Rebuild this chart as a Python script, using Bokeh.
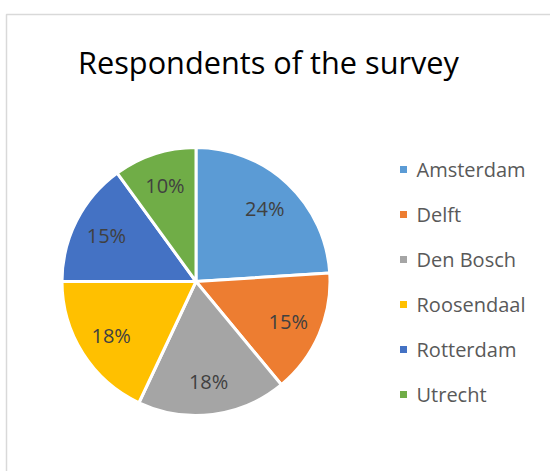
import numpy as np
from bokeh.plotting import figure
from bokeh.models import Range1d, ColumnDataSource
from bokeh.core.properties import value
from bokeh.embed import file_html
from bokeh.resources import INLINE

# Survey respondents per city (percent of total)
cities = ["Amsterdam", "Delft", "Den Bosch", "Roosendaal", "Rotterdam", "Utrecht"]
shares = [24, 15, 18, 18, 15, 10]
colors = ["#5B9BD5", "#ED7D31", "#A5A5A5", "#FFC000", "#4472C4", "#70AD47"]
title_text = "Respondents of the survey"

W, H = 550, 471
p = figure(width=W, height=H, output_backend="svg", toolbar_location=None,
           x_range=Range1d(0, W), y_range=Range1d(0, H),
           min_border=0, outline_line_color=None)
p.axis.visible = False
p.grid.visible = False
p.background_fill_color = "white"

# chart-area border
p.quad(left=[6], right=[W + 10], bottom=[-10], top=[H - 14],
       fill_color=None, line_color="#D9D9D9", line_width=1.5)

# title
p.text(x=[268], y=[H - 61], text=[title_text], text_align="center",
       text_baseline="middle", text_font=value("Open Sans"),
       text_font_size="30.7px", text_color="#000000")

# pie: starts at 12 o'clock, runs clockwise
cx, cy, r = 195.5, H - 281, 134
fr = np.array(shares, dtype=float) / sum(shares)
cum = np.concatenate([[0], np.cumsum(fr)])
start = np.pi / 2 - 2 * np.pi * cum[:-1]
end = np.pi / 2 - 2 * np.pi * cum[1:]
src = ColumnDataSource(dict(start=start, end=end, color=colors))
p.wedge(x=cx, y=cy, radius=r, start_angle="start", end_angle="end",
        direction="clock", fill_color="color", line_color="white",
        line_width=3, source=src)

# percentage labels inside the slices
mid = (start + end) / 2
lr = 0.75 * r
p.text(x=cx + lr * np.cos(mid), y=cy + lr * np.sin(mid),
       text=[f"{v}%" for v in shares], text_align="center",
       text_baseline="middle", text_font=value("Open Sans"),
       text_font_size="20px", text_color="#404040")

# legend
idx = np.arange(len(cities))
ly = H - (169 + 45 * idx)
p.rect(x=[403] * len(cities), y=ly, width=7, height=7,
       fill_color=colors, line_color=None)
p.text(x=[416] * len(cities), y=ly, text=cities, text_align="left",
       text_baseline="middle", text_font=value("Open Sans"),
       text_font_size="20px", text_color="#595959")

open("out.html", "w").write(file_html(p, INLINE))
